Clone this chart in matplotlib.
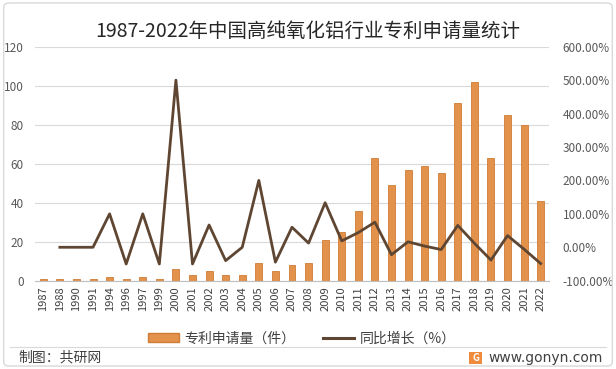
import numpy as np
import matplotlib
matplotlib.use('Agg')
import matplotlib.pyplot as plt
from matplotlib.lines import Line2D
from matplotlib.patches import Patch, FancyBboxPatch, Rectangle

plt.rcParams['font.family'] = ['Noto Sans CJK SC', 'DejaVu Sans']

years = ['1987', '1988', '1990', '1991', '1994', '1996', '1997', '1999',
         '2000', '2001', '2002', '2003', '2004', '2005', '2006', '2007',
         '2008', '2009', '2010', '2011', '2012', '2013', '2014', '2015',
         '2016', '2017', '2018', '2019', '2020', '2021', '2022']
patents = [1, 1, 1, 1, 2, 1, 2, 1,
           6, 3, 5, 3, 3, 9, 5, 8,
           9, 21, 25, 36, 63, 49, 57, 59,
           55, 91, 102, 63, 85, 80, 41]
# 同比增长 (%), 1987 has no value
growth = [np.nan, 0.0, 0.0, 0.0, 100.0, -50.0, 100.0, -50.0,
          500.0, -50.0, 66.67, -40.0, 0.0, 200.0, -44.44, 60.0,
          12.5, 133.33, 19.05, 44.0, 75.0, -22.22, 16.33, 3.51,
          -6.78, 65.45, 12.09, -38.24, 34.92, -5.88, -48.75]

bar_color = '#E3924C'
line_color = '#5E4632'
text_gray = '#595959'

fig = plt.figure(figsize=(6.16, 3.69), dpi=100)
fig.patch.set_facecolor('white')

# outer frame
fig.add_artist(FancyBboxPatch((0.006, 0.008), 0.988, 0.984,
                              boxstyle='round,pad=0,rounding_size=0.01',
                              transform=fig.transFigure, fill=False,
                              edgecolor='#D9D9D9', linewidth=1.0))

ax = fig.add_axes([0.0568, 0.2393, 0.8344, 0.6341])
x = np.arange(len(years))

ax.bar(x, patents, width=0.42, color=bar_color, edgecolor='#CF7C36',
       linewidth=0.6, zorder=2)
ax.set_xlim(-0.5, len(years) - 0.5)
ax.set_ylim(0, 120)
ax.set_yticks(np.arange(0, 121, 20))
ax.grid(axis='y', color='#D9D9D9', linewidth=0.8, zorder=0)
ax.set_axisbelow(True)
for s in ['top', 'right', 'left']:
    ax.spines[s].set_visible(False)
ax.spines['bottom'].set_color('#BFBFBF')
ax.tick_params(axis='y', length=0, labelsize=8.5, labelcolor=text_gray, pad=8)
ax.set_xticks(x)
ax.set_xticklabels(years, rotation=90, fontsize=8, color='#404040')
ax.tick_params(axis='x', length=0, pad=4)

ax2 = ax.twinx()
ax2.plot(x, growth, color=line_color, linewidth=2.0, zorder=3)
ax2.set_ylim(-100, 600)
ax2.set_yticks(np.arange(-100, 601, 100))
ax2.set_yticklabels([f'{v:.2f}%' for v in np.arange(-100, 601, 100)])
ax2.tick_params(axis='y', length=0, labelsize=8.5, labelcolor=text_gray, pad=10)
for s in ['top', 'right', 'left', 'bottom']:
    ax2.spines[s].set_visible(False)

fig.text(0.5, 0.915, '1987-2022年中国高纯氧化铝行业专利申请量统计',
         ha='center', va='center', fontsize=14, color='#262626')

handles = [Patch(facecolor=bar_color, edgecolor='#CF7C36'),
           Line2D([0], [0], color=line_color, linewidth=2.2)]
fig.legend(handles, ['专利申请量（件）', '同比增长（%）'],
           loc='center', bbox_to_anchor=(0.49, 0.083), ncol=2, frameon=False,
           fontsize=10, handlelength=2.2, handleheight=0.6, columnspacing=2.0,
           handletextpad=0.4, labelcolor='#404040')

# footer
fig.add_artist(Line2D([0.016, 0.984], [0.06, 0.06], transform=fig.transFigure,
                      color='#D9D9D9', linewidth=0.8))
fig.text(0.03, 0.03, '制图：共研网', ha='left', va='center', fontsize=10,
         color='#404040')
fig.add_artist(Rectangle((0.762, 0.013), 0.021, 0.034, transform=fig.transFigure,
                         facecolor='#F08A3C', edgecolor='none'))
fig.text(0.7725, 0.03, 'G', ha='center', va='center', fontsize=7,
         color='white', fontweight='bold')
fig.text(0.978, 0.03, 'www.gonyn.com', ha='right', va='center', fontsize=10,
         color='#404040', family=['DejaVu Sans'])

fig.savefig('out.png', dpi=100)
